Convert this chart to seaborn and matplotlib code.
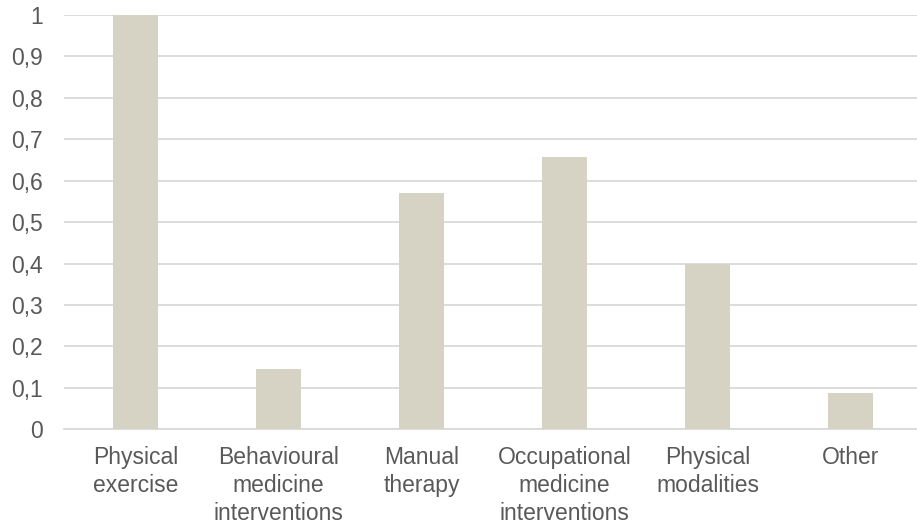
import matplotlib
matplotlib.use("Agg")
import matplotlib.pyplot as plt
import seaborn as sns
import pandas as pd
from matplotlib.ticker import FuncFormatter, MultipleLocator

# Data
categories = [
    "Physical\nexercise",
    "Behavioural\nmedicine\ninterventions",
    "Manual\ntherapy",
    "Occupational\nmedicine\ninterventions",
    "Physical\nmodalities",
    "Other",
]
values = [1.0, 0.146, 0.571, 0.657, 0.40, 0.087]

df = pd.DataFrame({"category": categories, "value": values})

sns.set_theme(style="white")
plt.rcParams["font.family"] = ["Liberation Sans", "DejaVu Sans"]

fig = plt.figure(figsize=(9.17, 5.26), dpi=100)
ax = fig.add_axes([64 / 917, 96.7 / 526, 858 / 917, 414.3 / 526])

sns.barplot(data=df, x="category", y="value", color="#D6D2C4",
            width=0.31, saturation=1, linewidth=0, ax=ax, zorder=3)

ax.set_ylim(0, 1)
ax.yaxis.set_major_locator(MultipleLocator(0.1))
ax.yaxis.set_major_formatter(FuncFormatter(
    lambda v, _: ("%g" % round(v, 1)).replace(".", ",")))
ax.grid(axis="y", color="#D9D9D9", linewidth=1.3, zorder=0)
ax.set_axisbelow(True)

for s in ["top", "right", "left"]:
    ax.spines[s].set_visible(False)
ax.spines["bottom"].set_color("#D9D9D9")
ax.spines["bottom"].set_linewidth(1.3)

ax.set_xlabel("")
ax.set_ylabel("")
ax.tick_params(axis="both", length=0, labelsize=16.5, colors="#595959")
ax.tick_params(axis="y", pad=15)
ax.tick_params(axis="x", pad=12)
for lbl in ax.get_xticklabels():
    lbl.set_linespacing(1.27)

fig.savefig("out.png", dpi=100)
